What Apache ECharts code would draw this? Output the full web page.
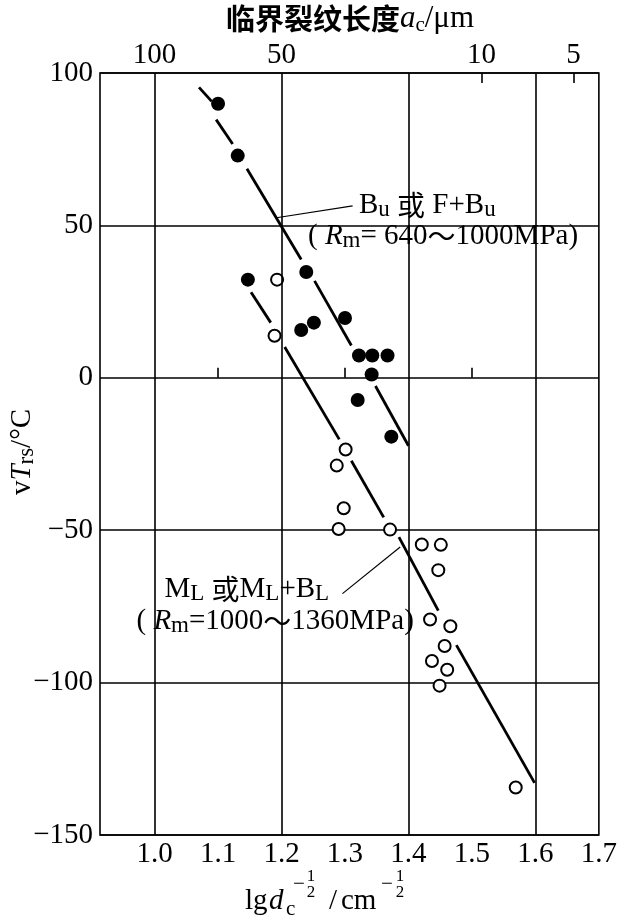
<!DOCTYPE html>
<html><head><meta charset="utf-8">
<script src="https://cdn.jsdelivr.net/npm/echarts@6/dist/echarts.min.js"></script>
<style>html,body{margin:0;padding:0;background:#fff}#c{width:620px;height:917px}</style>
</head><body><div id="c"></div>
<script>
// ---- data ----
const bottomTickLabels = [1.0, 1.1, 1.2, 1.3, 1.4, 1.5, 1.6, 1.7];
const bottomMinorTicks = [1.1, 1.3, 1.5];
const xGridLines = [1.0, 1.2, 1.4, 1.6];
const topTickValues = [1.0, 1.2, 1.515, 1.66];
const topTickLabels = ['100', '50', '10', '5'];
const topMinorTicks = [1.515, 1.66];

// Bu or F+Bu (filled)
const buX = [1.100, 1.131, 1.147, 1.239, 1.231, 1.251, 1.300, 1.322, 1.343, 1.367, 1.342, 1.320, 1.373];
const buY = [89.9, 72.9, 32.2, 34.7, 15.7, 18.1, 19.6, 7.3, 7.3, 7.3, 1.1, -7.3, -19.3];
// ML or ML+BL (open)
const mlX = [1.193, 1.189, 1.301, 1.287, 1.298, 1.290, 1.371, 1.421, 1.451, 1.447, 1.434, 1.466, 1.457, 1.437, 1.461, 1.449, 1.569];
const mlY = [32.2, 13.8, -23.5, -28.8, -42.8, -49.6, -49.8, -54.7, -54.8, -63.1, -79.3, -81.5, -88.0, -92.9, -95.8, -101.0, -134.4];

// fitted lines, broken around points: [x1, y1, x2, y2]
const buLineSegments = [
  [1.070, 95.3, 1.090, 90.7],
  [1.097, 84.7, 1.123, 76.7],
  [1.1455, 68.6, 1.231, 38.8],
  [1.252, 31.8, 1.310, 10.6],
  [1.348, -2.7, 1.400, -22.3]
];
const mlLineSegments = [
  [1.152, 28.1, 1.183, 18.1],
  [1.205, 10.1, 1.291, -20.2],
  [1.310, -27.2, 1.361, -45.8],
  [1.385, -52.3, 1.447, -76.4],
  [1.4755, -87.7, 1.5987, -132.9]
];
const leaderSegments = [
  [1.192, 52.5, 1.312, 56.4],
  [1.296, -70.8, 1.387, -55.5]
];

// ---- chart ----
const SERIF = 'Liberation Serif';
const CJK = 'Noto Sans CJK SC';
const chart = echarts.init(document.getElementById('c'), null, {renderer: 'canvas'});
const minus = v => String(v).replace('-', '\u2212');

const segData = segs => segs.map(s => ({coords: [[s[0], s[1]], [s[2], s[3]]]}));
const zip = (xs, ys) => xs.map((x, i) => [x, ys[i]]);

const option = {
  animation: false,
  backgroundColor: '#fff',
  grid: {left: 100, right: 16, top: 73, bottom: 82, show: true, borderColor: '#000', borderWidth: 1.6, backgroundColor: 'transparent'},
  xAxis: [
    {
      type: 'value', position: 'bottom', min: 0.914, max: 1.7,
      axisLine: {show: false},
      splitLine: {show: false},
      axisTick: {show: true, inside: true, length: 10, customValues: bottomMinorTicks, lineStyle: {color: '#000', width: 1.6}},
      axisLabel: {customValues: bottomTickLabels, formatter: v => Number(v).toFixed(1), fontFamily: SERIF, fontSize: 29, color: '#000', margin: 5}
    },
    {
      type: 'value', position: 'top', min: 0.914, max: 1.7,
      axisLine: {show: false},
      splitLine: {show: false},
      axisTick: {show: true, inside: true, length: 10, customValues: topMinorTicks, lineStyle: {color: '#000', width: 1.6}},
      axisLabel: {customValues: topTickValues, formatter: v => {
        const i = topTickValues.findIndex(t => Math.abs(t - v) < 1e-6);
        return i >= 0 ? topTickLabels[i] : '';
      }, fontFamily: SERIF, fontSize: 29, color: '#000', margin: 3}
    }
  ],
  yAxis: {
    type: 'value', min: -150, max: 100, interval: 50,
    axisLine: {show: false},
    axisTick: {show: false},
    splitLine: {show: true, lineStyle: {color: '#000', width: 1.6}},
    axisLabel: {formatter: minus, fontFamily: SERIF, fontSize: 29, color: '#000', margin: 7}
  },
  series: [
    {
      type: 'line', data: [], z: 1, silent: true,
      markLine: {
        silent: true, symbol: 'none', label: {show: false},
        lineStyle: {color: '#000', width: 1.6, type: 'solid'},
        data: xGridLines.map(x => ({xAxis: x}))
      }
    },
    {
      type: 'lines', coordinateSystem: 'cartesian2d', z: 2, silent: true,
      lineStyle: {color: '#000', width: 2.8, opacity: 1},
      data: segData(buLineSegments.concat(mlLineSegments))
    },
    {
      type: 'lines', coordinateSystem: 'cartesian2d', z: 2, silent: true,
      lineStyle: {color: '#000', width: 1.2, opacity: 1},
      data: segData(leaderSegments)
    },
    {
      type: 'scatter', z: 3, symbol: 'circle', symbolSize: 14,
      itemStyle: {color: '#000', opacity: 1},
      data: zip(buX, buY)
    },
    {
      type: 'scatter', z: 3, symbol: 'circle', symbolSize: 12,
      itemStyle: {color: '#fff', borderColor: '#000', borderWidth: 2, opacity: 1},
      data: zip(mlX, mlY)
    }
  ]
};
chart.setOption(option);

const rich = {
  n: {fontFamily: SERIF, fontSize: 29, lineHeight: 32, color: '#000'},
  i: {fontFamily: SERIF, fontSize: 29, lineHeight: 32, fontStyle: 'italic', color: '#000'},
  s: {fontFamily: SERIF, fontSize: 23, lineHeight: 22, verticalAlign: 'bottom', color: '#000'},
  k: {fontFamily: CJK, fontSize: 28, lineHeight: 32, color: '#000'},
  kt: {fontFamily: CJK, fontSize: 29, lineHeight: 34, fontWeight: 'bold', color: '#000'},
  it: {fontFamily: SERIF, fontSize: 31, lineHeight: 34, fontStyle: 'italic', color: '#000'},
  nt: {fontFamily: SERIF, fontSize: 31, lineHeight: 34, color: '#000'},
  st: {fontFamily: SERIF, fontSize: 21, lineHeight: 20, verticalAlign: 'bottom', color: '#000'}
};

const annotations = [
  {at: [1.322, 56.5], text: '{n|B}{s|u}{n| }{k|或}{n| F+B}{s|u}'},
  {at: [1.2417, 46.5], text: '{n|( }{i|R}{s|m}{n|= 640}{k|～}{n|1000MPa)}'},
  {at: [1.0156, -69.5], text: '{n|M}{s|L}{n| }{k|或}{n|M}{s|L}{n|+B}{s|L}'},
  {at: [0.9715, -79.9], text: '{n|( }{i|R}{s|m}{n|=1000}{k|～}{n|1360MPa)}'}
];

const graphics = annotations.map(a => {
  const p = chart.convertToPixel({xAxisIndex: 0, yAxisIndex: 0}, a.at);
  return {type: 'text', x: p[0], y: p[1], z: 10, style: {text: a.text, rich, align: 'left', verticalAlign: 'middle'}};
});

// title
graphics.push({type: 'text', x: 350, y: 19, z: 10, style: {text: '{kt|临界裂纹长度}{it|a}{st|c}{nt|/μm}', rich, align: 'center', verticalAlign: 'middle'}});
// y axis name
graphics.push({type: 'text', x: 22, y: 452, rotation: Math.PI / 2, z: 10, style: {text: '{n|v}{i|T}{s|rs}{n|/°C}', rich, align: 'center', verticalAlign: 'middle'}});
// x axis name with stacked fractions
const fr = {fontFamily: SERIF, fontSize: 17, fill: '#000', align: 'center', verticalAlign: 'middle'};
const mn = {fontFamily: SERIF, fontSize: 29, fill: '#000', align: 'left', verticalAlign: 'middle'};
graphics.push({type: 'group', x: 245, y: 901, children: [
  {type: 'text', x: 0, y: 0, style: Object.assign({}, mn, {text: 'lg'})},
  {type: 'text', x: 24, y: 0, style: Object.assign({}, mn, {text: 'd', fontStyle: 'italic'})},
  {type: 'text', x: 41, y: 8, style: Object.assign({}, mn, {text: 'c', fontSize: 21})},
  {type: 'text', x: 48, y: -17, style: Object.assign({}, mn, {text: '\u2212', fontSize: 21})},
  {type: 'text', x: 66, y: -24, style: Object.assign({}, fr, {text: '1'})},
  {type: 'text', x: 66, y: -8, style: Object.assign({}, fr, {text: '2'})},
  {type: 'text', x: 84, y: 0, style: Object.assign({}, mn, {text: '/'})},
  {type: 'text', x: 96, y: 0, style: Object.assign({}, mn, {text: 'cm'})},
  {type: 'text', x: 136, y: -17, style: Object.assign({}, mn, {text: '\u2212', fontSize: 21})},
  {type: 'text', x: 155, y: -24, style: Object.assign({}, fr, {text: '1'})},
  {type: 'text', x: 155, y: -8, style: Object.assign({}, fr, {text: '2'})}
]});

chart.setOption({graphic: graphics});
</script>
</body></html>
